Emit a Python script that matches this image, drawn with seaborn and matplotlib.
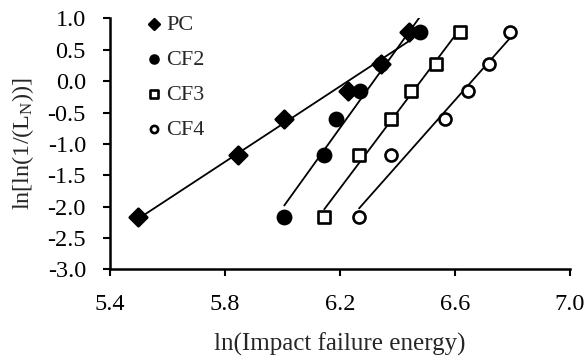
import numpy as np
import pandas as pd
import matplotlib
matplotlib.use("Agg")
import matplotlib.pyplot as plt
import seaborn as sns

sns.set_style("ticks")
plt.rcParams['font.family'] = ['Liberation Serif', 'DejaVu Serif']
plt.rcParams['mathtext.fontset'] = 'custom'
plt.rcParams['mathtext.rm'] = 'Liberation Serif'
plt.rcParams['mathtext.it'] = 'Liberation Serif:italic'

# Data
y_vals = [-2.16, -1.18, -0.60, -0.15, 0.28, 0.79]
pc_x = [5.500, 5.846, 6.007, 6.230, 6.342, 6.440]
cf2_x = [6.007, 6.146, 6.188, 6.271, 6.342, 6.478]
cf3_x = [6.146, 6.267, 6.379, 6.446, 6.534, 6.619]
cf4_x = [6.267, 6.379, 6.564, 6.647, 6.720, 6.792]
series_names = ["PC", "CF2", "CF3", "CF4"]
x_ticks = [5.4, 5.8, 6.2, 6.6, 7.0]
y_ticks = [1.0, 0.5, 0.0, -0.5, -1.0, -1.5, -2.0, -2.5, -3.0]

styles = {
    "PC": dict(marker="D", s=80, facecolor="black", edgecolor="black"),
    "CF2": dict(marker="o", s=90, facecolor="black", edgecolor="black"),
    "CF3": dict(marker="s", s=75, facecolor="white", edgecolor="black"),
    "CF4": dict(marker="o", s=75, facecolor="white", edgecolor="black"),
}

fig = plt.figure(figsize=(5.86, 3.61), dpi=100)
ax = fig.add_axes([0.187, 0.2535, 0.7857, 0.6955])

for name, xs in zip(series_names, [pc_x, cf2_x, cf3_x, cf4_x]):
    df = pd.DataFrame({"x": xs, "y": y_vals})
    st = styles[name]
    sns.regplot(data=df, x="x", y="y", ax=ax, ci=None, truncate=True,
                scatter=False, line_kws=dict(color="black", lw=1.3, zorder=2))
    ax.scatter(df["x"], df["y"], marker=st["marker"], s=st["s"],
               facecolors=st["facecolor"], edgecolors=st["edgecolor"],
               linewidths=1.9, zorder=3, label=name)

ax.set_xlim(5.4, 7.0)
ax.set_ylim(-3.0, 1.0)
ax.set_xticks(x_ticks)
ax.set_yticks(y_ticks)
ax.set_xticklabels([f"{v:.1f}" for v in x_ticks])
ax.set_yticklabels([f"{v:.1f}" for v in y_ticks])
ax.tick_params(axis="both", direction="out", length=5, width=1.5, labelsize=17.5,
               colors="black")
ax.tick_params(axis="x", pad=13)
ax.tick_params(axis="y", pad=12)
for sp in ["left", "bottom"]:
    ax.spines[sp].set_linewidth(1.8)
    ax.spines[sp].set_color("black")
for sp in ["top", "right"]:
    ax.spines[sp].set_visible(False)

ax.set_xlabel("ln(Impact failure energy)", fontsize=18, labelpad=12)
ax.set_ylabel(r"ln[ln(1/(L$_\mathrm{N}$))]", fontsize=17.5, labelpad=8)

leg = ax.legend(loc="upper left", bbox_to_anchor=(0.06, 1.05), frameon=False,
                fontsize=16, handletextpad=0.2, labelspacing=0.65,
                handlelength=0.7, markerscale=0.6, borderaxespad=0)

fig.savefig("out.png", dpi=100)
